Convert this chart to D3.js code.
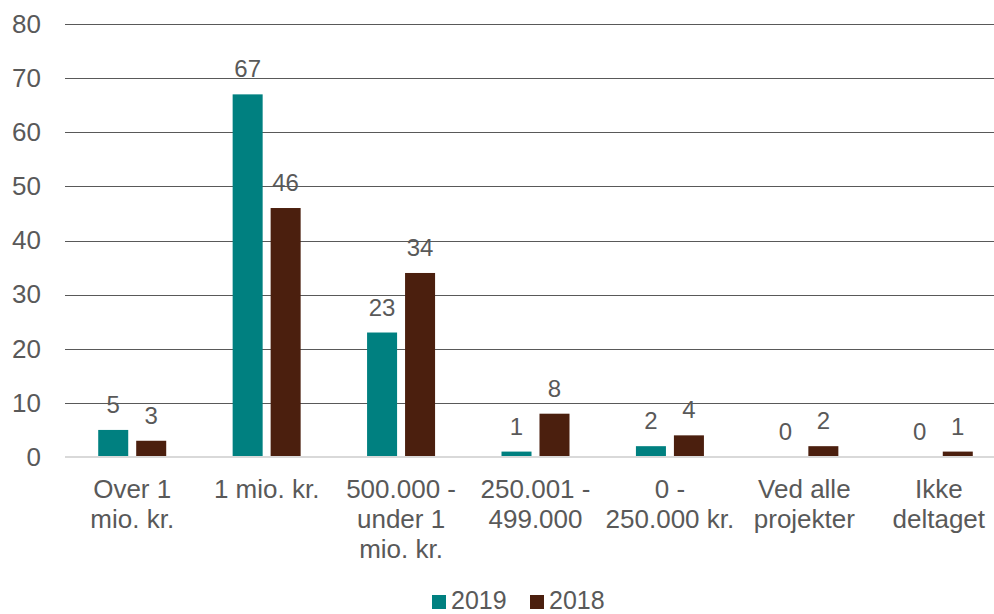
<!DOCTYPE html>
<html>
<head>
<meta charset="utf-8">
<script src="https://cdn.jsdelivr.net/npm/d3@7"></script>
<style>
  body { margin: 0; background: #fff; }
  text { font-family: "Liberation Sans", Arial, sans-serif; fill: #595959; }
</style>
</head>
<body>
<div id="chart"></div>
<script>
// data
const categories = [
  ['Over 1', 'mio. kr.'],
  ['1 mio. kr.'],
  ['500.000 -', 'under 1', 'mio. kr.'],
  ['250.001 -', '499.000'],
  ['0 -', '250.000 kr.'],
  ['Ved alle', 'projekter'],
  ['Ikke', 'deltaget']
];
const series = ['2019', '2018'];
const values2019 = [5, 67, 23, 1, 2, 0, 0];
const values2018 = [3, 46, 34, 8, 4, 2, 1];
const yTicks = [0, 10, 20, 30, 40, 50, 60, 70, 80];
const colors = ['#008080', '#4B1F0E'];

const width = 994, height = 614;
const margin = {top: 24, left: 65, right: -12, bottom: 157};

const svg = d3.select('#chart').append('svg')
  .attr('width', width)
  .attr('height', height);

const x = d3.scaleBand()
  .domain(d3.range(categories.length))
  .range([margin.left, width - margin.right])
  .padding(0);

const x1 = d3.scaleBand()
  .domain(series)
  .range([x.bandwidth() / 2 - 34, x.bandwidth() / 2 + 34])
  .paddingInner(0.21);

const y = d3.scaleLinear()
  .domain([0, 80])
  .range([height - margin.bottom, margin.top]);

// gridlines
svg.append('g')
  .selectAll('line')
  .data(yTicks.filter(d => d > 0))
  .enter().append('line')
  .attr('x1', margin.left)
  .attr('x2', width)
  .attr('y1', d => Math.round(y(d)) + 0.5)
  .attr('y2', d => Math.round(y(d)) + 0.5)
  .attr('stroke', '#595959')
  .attr('stroke-width', 1);

// y axis labels
const yAxis = d3.axisLeft(y).tickValues(yTicks).tickSize(0).tickPadding(24);
const gy = svg.append('g')
  .attr('transform', 'translate(' + margin.left + ',0)')
  .call(yAxis);
gy.select('.domain').remove();
gy.selectAll('text')
  .style('font-family', '"Liberation Sans", Arial, sans-serif')
  .style('font-size', '26px')
  .style('fill', '#595959');

// bars
const rows = categories.map((c, i) => ({i: i, vals: [values2019[i], values2018[i]]}));
const groups = svg.append('g')
  .selectAll('g')
  .data(rows)
  .enter().append('g')
  .attr('transform', d => 'translate(' + x(d.i) + ',0)');

groups.selectAll('rect')
  .data(d => d.vals.map((v, k) => ({key: series[k], v: v, k: k})))
  .enter().append('rect')
  .attr('x', d => x1(d.key))
  .attr('width', x1.bandwidth())
  .attr('y', d => y(d.v))
  .attr('height', d => y(0) - y(d.v))
  .attr('fill', d => colors[d.k]);

groups.selectAll('text.val')
  .data(d => d.vals.map((v, k) => ({key: series[k], v: v, k: k})))
  .enter().append('text')
  .attr('class', 'val')
  .attr('x', d => x1(d.key) + x1.bandwidth() / 2)
  .attr('y', d => y(d.v) - 17)
  .attr('text-anchor', 'middle')
  .style('font-size', '24px')
  .text(d => d.v);

// zero axis line
svg.append('line')
  .attr('x1', margin.left)
  .attr('x2', width)
  .attr('y1', y(0))
  .attr('y2', y(0))
  .attr('stroke', '#d9d9d9')
  .attr('stroke-width', 2);

// category labels
const xl = svg.append('g')
  .selectAll('text')
  .data(categories)
  .enter().append('text')
  .attr('text-anchor', 'middle')
  .attr('x', (d, i) => x(i) + x.bandwidth() / 2)
  .attr('y', y(0) + 41)
  .style('font-size', '26px');
xl.selectAll('tspan')
  .data(d => d)
  .enter().append('tspan')
  .attr('x', function() { return d3.select(this.parentNode).attr('x'); })
  .attr('dy', (d, j) => j === 0 ? 0 : 30)
  .text(d => d);

// legend
const legend = svg.append('g')
  .selectAll('g')
  .data(series)
  .enter().append('g')
  .attr('transform', (d, i) => 'translate(' + (432 + i * 98) + ',595)');
legend.append('rect')
  .attr('width', 14)
  .attr('height', 14)
  .attr('fill', (d, i) => colors[i]);
legend.append('text')
  .attr('x', 19)
  .attr('y', 14)
  .style('font-size', '25px')
  .text(d => d);
</script>
</body>
</html>
